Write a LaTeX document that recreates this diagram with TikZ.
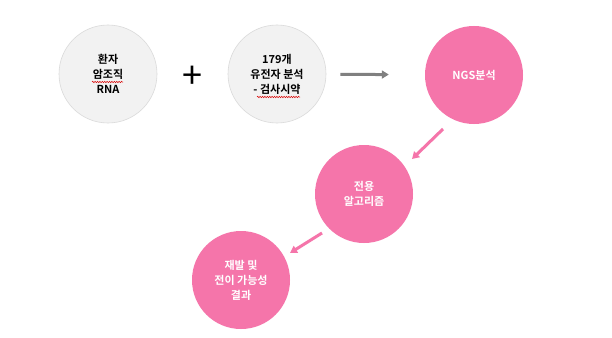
\documentclass[tikz,border=0pt]{standalone}
\usepackage{fontspec}
\setmainfont{Noto Sans CJK KR}[BoldFont={Noto Sans CJK KR Bold}]
\usetikzlibrary{arrows.meta,decorations.pathmorphing}
\definecolor{cgrey}{HTML}{F2F2F2}
\definecolor{cline}{HTML}{DADADA}
\definecolor{cpink}{HTML}{F575AA}
\definecolor{carrow}{HTML}{808080}
\tikzset{
  step circ/.style={circle,minimum size=98pt,inner sep=0pt,align=center,
    font=\fontsize{11pt}{15pt}\selectfont\bfseries},
  grey circ/.style={step circ,fill=cgrey,draw=cline,line width=0.6pt},
  pink circ/.style={step circ,fill=cpink,text=white},
  flow/.style={line width=3pt,-{Triangle[length=7pt,width=8pt]}},
  spell/.style={red!85!black,line width=0.5pt,decorate,
    decoration={snake,amplitude=0.7pt,segment length=2.4pt}}
}
\begin{document}
\begin{tikzpicture}[x=1pt,y=-1pt]
    \useasboundingbox[fill=white] (0,0) rectangle (612,337);
    \node[grey circ] (patient) at (108,74) {환자\\암조직\\RNA};
    \node[grey circ] (genes) at (277,74) {179개\\유전자 분석\\- 검사시약};
    \node[pink circ] (ngs) at (474,75) {NGS분석};
    \node[pink circ] (algo) at (364,194) {전용\\알고리즘};
    \node[pink circ] (result) at (241,280) {재발 및\\전이 가능성\\결과};
    \node[font=\fontsize{36pt}{36pt}\selectfont] (plus) at (192,77) {+};
    % spell check marks
    \draw[spell] ([shift={(-16,8)}]patient.center) -- ++(31,0);
    \draw[spell] ([shift={(-20,23)}]genes.center) -- ++(43,0);
    % arrows
    \draw[carrow,flow,shorten <=14pt,shorten >=36pt] (genes) -- (ngs);
    \coordinate (ngs out) at ([shift={(-31,54)}]ngs.center);
    \coordinate (algo in) at ([shift={(48,-35)}]algo.center);
    \coordinate (algo out) at ([shift={(-42,39)}]algo.center);
    \coordinate (result in) at ([shift={(49,-27)}]result.center);
    \draw[cpink,flow] (ngs out) -- (algo in);
    \draw[cpink,flow] (algo out) -- (result in);
  \end{tikzpicture}
\end{document}
